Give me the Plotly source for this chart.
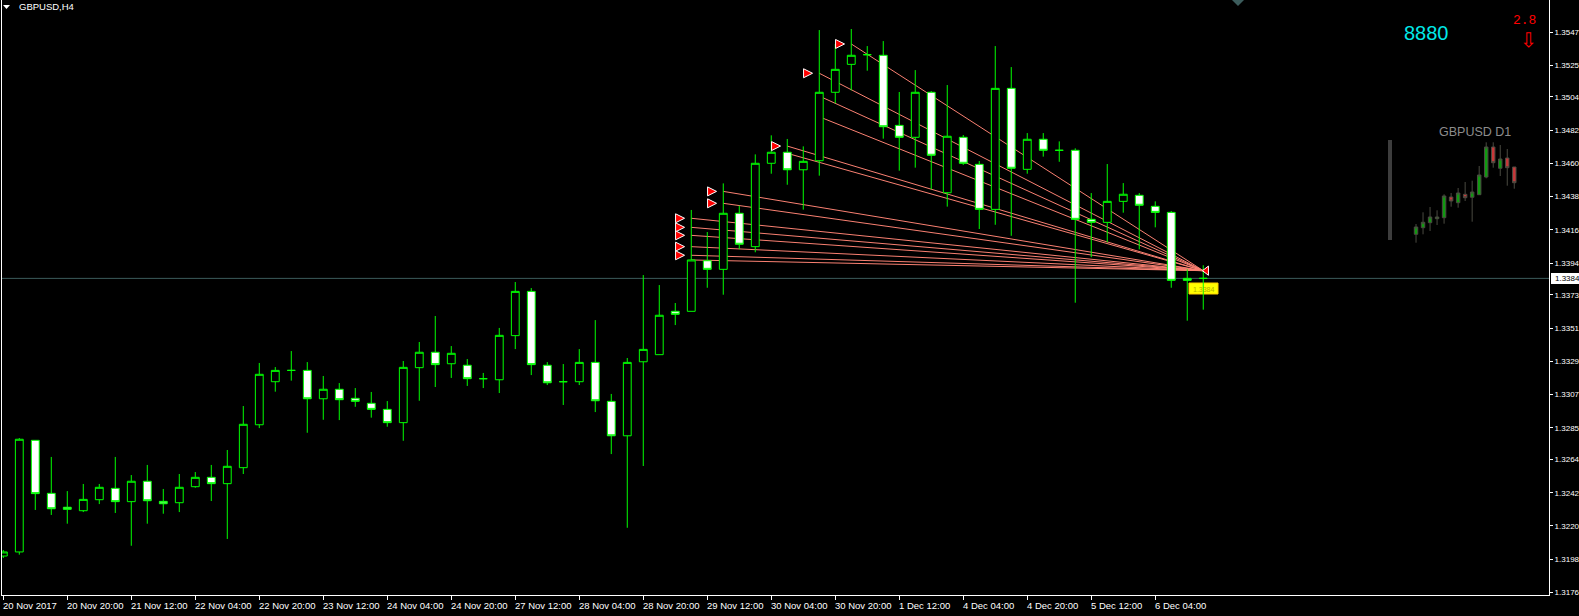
import plotly.graph_objects as go

# ---------------- H4 candles (GBPUSD,H4) ----------------
bar_index = list(range(76))
h4_open = [1.32001, 1.32028, 1.32767, 1.32416, 1.32324, 1.32301, 1.32374, 1.32449, 1.32361, 1.32496,
           1.32363, 1.32354, 1.32460, 1.32522, 1.32480, 1.32586, 1.32870, 1.33155, 1.33230, 1.33230,
           1.33042, 1.33105, 1.33045, 1.33012, 1.32972, 1.32884, 1.33248, 1.33350, 1.33274, 1.33264,
           1.33175, 1.33168, 1.33460, 1.33753, 1.33264, 1.33155, 1.33155, 1.33283, 1.33025, 1.32797,
           1.33287, 1.33334, 1.33621, 1.33621, 1.33956, 1.33899, 1.34270, 1.34049, 1.34601, 1.34674,
           1.34558, 1.34618, 1.35071, 1.35256, 1.35320, 1.35316, 1.34852, 1.34773, 1.35071, 1.34406,
           1.34773, 1.34594, 1.34296, 1.35097, 1.34561, 1.34760, 1.34687, 1.34687, 1.34230, 1.34210,
           1.34349, 1.34389, 1.34316, 1.34276, 1.33839, 1.33839]
h4_high = [1.32041, 1.32782, 1.32767, 1.32657, 1.32431, 1.32478, 1.32478, 1.32657, 1.32537, 1.32604,
           1.32445, 1.32544, 1.32557, 1.32604, 1.32703, 1.32994, 1.33279, 1.33252, 1.33358, 1.33285,
           1.33193, 1.33146, 1.33113, 1.33087, 1.33027, 1.33292, 1.33418, 1.33590, 1.33391, 1.33305,
           1.33213, 1.33511, 1.33815, 1.33775, 1.33285, 1.33272, 1.33371, 1.33563, 1.33074, 1.33312,
           1.33861, 1.33795, 1.33676, 1.34292, 1.34146, 1.34468, 1.34320, 1.34660, 1.34786, 1.34762,
           1.34713, 1.35483, 1.35391, 1.35490, 1.35377, 1.35410, 1.35073, 1.35218, 1.35079, 1.35119,
           1.34788, 1.34616, 1.35377, 1.35238, 1.34801, 1.34801, 1.34746, 1.34700, 1.34404, 1.34596,
           1.34470, 1.34404, 1.34349, 1.34285, 1.33899, 1.33926]
h4_low = [1.31988, 1.32010, 1.32306, 1.32273, 1.32215, 1.32292, 1.32345, 1.32286, 1.32069, 1.32215,
          1.32281, 1.32292, 1.32453, 1.32365, 1.32114, 1.32544, 1.32848, 1.33089, 1.33162, 1.32817,
          1.32903, 1.32901, 1.32989, 1.32917, 1.32857, 1.32764, 1.33029, 1.33120, 1.33180, 1.33127,
          1.33113, 1.33080, 1.33371, 1.33199, 1.33133, 1.33001, 1.33133, 1.32954, 1.32676, 1.32188,
          1.32597, 1.33334, 1.33530, 1.33621, 1.33777, 1.33731, 1.34033, 1.34012, 1.34532, 1.34459,
          1.34294, 1.34519, 1.34998, 1.35084, 1.35214, 1.34764, 1.34552, 1.34572, 1.34429, 1.34314,
          1.34590, 1.34166, 1.34194, 1.34121, 1.34532, 1.34645, 1.34611, 1.33678, 1.33979, 1.34078,
          1.34274, 1.34031, 1.34177, 1.33777, 1.33559, 1.33632]
h4_close = [1.32028, 1.32774, 1.32414, 1.32314, 1.32310, 1.32376, 1.32456, 1.32361, 1.32496, 1.32367,
            1.32347, 1.32456, 1.32522, 1.32480, 1.32595, 1.32873, 1.33204, 1.33230, 1.33230, 1.33042,
            1.33105, 1.33036, 1.33025, 1.32972, 1.32884, 1.33250, 1.33350, 1.33268, 1.33343, 1.33175,
            1.33175, 1.33462, 1.33753, 1.33268, 1.33148, 1.33155, 1.33283, 1.33029, 1.32797, 1.33283,
            1.33369, 1.33595, 1.33601, 1.33961, 1.33899, 1.34270, 1.34065, 1.34601, 1.34674, 1.34558,
            1.34614, 1.35071, 1.35223, 1.35316, 1.35320, 1.34843, 1.34773, 1.35071, 1.34654, 1.34780,
            1.34601, 1.34296, 1.35097, 1.34568, 1.34760, 1.34687, 1.34687, 1.34230, 1.34210, 1.34349,
            1.34396, 1.34323, 1.34276, 1.33826, 1.33826, 1.33839]

# time-axis labels (every 4 bars)
x_label_bars = [0, 4, 8, 12, 16, 20, 24, 28, 32, 36, 40, 44, 48, 52, 56, 60, 64, 68, 72]
x_labels = ["20 Nov 2017", "20 Nov 20:00", "21 Nov 12:00", "22 Nov 04:00", "22 Nov 20:00",
            "23 Nov 12:00", "24 Nov 04:00", "24 Nov 20:00", "27 Nov 12:00", "28 Nov 04:00",
            "28 Nov 20:00", "29 Nov 12:00", "30 Nov 04:00", "30 Nov 20:00", "1 Dec 12:00",
            "4 Dec 04:00", "4 Dec 20:00", "5 Dec 12:00", "6 Dec 04:00"]

# price-axis labels
y_labels = ["1.3547", "1.3525", "1.3504", "1.3482", "1.3460", "1.3438", "1.3416", "1.3394",
            "1.3373", "1.3351", "1.3329", "1.3307", "1.3285", "1.3264", "1.3242", "1.3220",
            "1.3198", "1.3176"]
current_price = 1.33839
current_price_text = "1.3384"

# fan of trend lines (start bar / start price) -> common end point
line_start_bar = [53, 51, 51, 51, 49, 49, 45, 45, 43, 43, 43, 43, 43, 43]
line_start_price = [1.35391, 1.35197, 1.35046, 1.34909, 1.34715, 1.34667, 1.34415, 1.34336,
                    1.34237, 1.34177, 1.34124, 1.34049, 1.33992, 1.33961]
line_end_bar = 75
line_end_price = 1.33890

# arrow signals
arrow_bar = [53, 51, 49, 45, 45, 43, 43, 43, 43, 43]
arrow_price = [1.35391, 1.35197, 1.34715, 1.34415, 1.34336, 1.34237, 1.34177, 1.34124, 1.34049, 1.33992]

# ---------------- D1 mini chart ----------------
d1_index = list(range(15))
d1_open = [1.31776, 1.32040, 1.32240, 1.32400, 1.32440, 1.33268, 1.33040, 1.33376, 1.33256, 1.33360,
           1.34068, 1.35268, 1.34416, 1.34828, 1.34468]
d1_high = [1.32188, 1.32656, 1.32868, 1.32736, 1.33376, 1.33428, 1.33628, 1.33868, 1.33920, 1.34508,
           1.35456, 1.35456, 1.35348, 1.35188, 1.34468]
d1_low = [1.31440, 1.31776, 1.31908, 1.32148, 1.32200, 1.32880, 1.32840, 1.33108, 1.32280, 1.33360,
          1.34016, 1.34440, 1.34108, 1.33720, 1.33600]
d1_close = [1.32068, 1.32256, 1.32468, 1.32468, 1.33308, 1.33108, 1.33428, 1.33240, 1.33468, 1.34148,
            1.35268, 1.34640, 1.34788, 1.34440, 1.33840]

# ---------------- layout helpers (pixel -> paper) ----------------
W, H = 1579, 616
ML, MR, MT, MB = 2, 30, 0, 21
PW, PH = W - ML - MR, H - MT - MB


def px_x(px):
    return (px - ML) / PW


def px_y(py):
    return 1 - (py - MT) / PH


LIME = "#00FF00"
SALMON = "#FA8072"
SLATE = "#3c5c5c"
FONT = "Liberation Sans"

fig = go.Figure()

# arrows (drawn as scatter markers)
fig.add_trace(go.Scatter(
    x=[b - 0.42 for b in arrow_bar], y=arrow_price, mode="markers",
    marker=dict(symbol="arrow-right", size=9, color="#FF0000", line=dict(color="white", width=1)),
    hoverinfo="skip", showlegend=False))

# main candles
fig.add_trace(go.Candlestick(
    x=bar_index, open=h4_open, high=h4_high, low=h4_low, close=h4_close,
    increasing=dict(line=dict(color=LIME, width=1), fillcolor="black"),
    decreasing=dict(line=dict(color=LIME, width=1), fillcolor="white"),
    whiskerwidth=0, hoverinfo="skip", showlegend=False))

# end-point marker of the line fan
fig.add_trace(go.Scatter(
    x=[line_end_bar + 0.2], y=[line_end_price], mode="markers",
    marker=dict(symbol="triangle-left", size=8, color="#FF0000", line=dict(color="white", width=1)),
    hoverinfo="skip", showlegend=False))

# D1 mini chart
fig.add_trace(go.Candlestick(
    x=d1_index, open=d1_open, high=d1_high, low=d1_low, close=d1_close,
    xaxis="x2", yaxis="y2",
    increasing=dict(line=dict(color="#4a4a40", width=1), fillcolor="#119911"),
    decreasing=dict(line=dict(color="#4a4a40", width=1), fillcolor="#c8383a"),
    whiskerwidth=0, hoverinfo="skip", showlegend=False))

shapes = []
# trend line fan (behind candles)
for b, p in zip(line_start_bar, line_start_price):
    shapes.append(dict(type="line", xref="x", yref="y", x0=b, y0=p, x1=line_end_bar, y1=line_end_price,
                       line=dict(color=SALMON, width=1), layer="below"))
# current price line
shapes.append(dict(type="line", xref="paper", yref="y", x0=0, x1=1, y0=current_price, y1=current_price,
                   line=dict(color=SLATE, width=1), layer="below"))
# yellow price label
shapes.append(dict(type="rect", xref="paper", yref="paper",
                   x0=px_x(1189), x1=px_x(1218), y0=px_y(294), y1=px_y(283),
                   fillcolor="#FFFF00", line=dict(color="#FFD000", width=1), layer="below"))
# current price box on the axis
shapes.append(dict(type="rect", xref="paper", yref="paper",
                   x0=px_x(1551), x1=px_x(1580), y0=px_y(284), y1=px_y(273),
                   fillcolor="white", line=dict(width=0)))
# chart-shift triangle at top
shapes.append(dict(type="path", xref="paper", yref="paper",
                   path=f"M {px_x(1232)} {px_y(0)} L {px_x(1244)} {px_y(0)} L {px_x(1238)} {px_y(6)} Z",
                   fillcolor=SLATE, line=dict(width=0)))
# small white triangle before title
shapes.append(dict(type="path", xref="paper", yref="paper",
                   path=f"M {px_x(3)} {px_y(5)} L {px_x(10)} {px_y(5)} L {px_x(6.5)} {px_y(9)} Z",
                   fillcolor="white", line=dict(width=0)))
# striped gray scale bar of the D1 panel
for py in range(141, 241, 2):
    shapes.append(dict(type="line", xref="paper", yref="paper",
                       x0=px_x(1388), x1=px_x(1392), y0=px_y(py), y1=px_y(py),
                       line=dict(color="#9a9a9a", width=0.8)))

annotations = []
for b, t in zip(x_label_bars, x_labels):
    annotations.append(dict(x=b, xref="x", y=px_y(605), yref="paper", text=t, showarrow=False,
                            xanchor="left", yanchor="middle", xshift=-2,
                            font=dict(family=FONT, size=9.5, color="white")))
annotations += [
    dict(x=px_x(17), y=px_y(7), xref="paper", yref="paper", text="GBPUSD,H4", showarrow=False,
         xanchor="left", yanchor="middle", font=dict(family=FONT, size=9.5, color="white")),
    dict(x=px_x(1426.5), y=px_y(32.5), xref="paper", yref="paper", text="8880", showarrow=False,
         xanchor="center", yanchor="middle", font=dict(family=FONT, size=20, color="#00E8E8")),
    dict(x=px_x(1524), y=px_y(20.5), xref="paper", yref="paper", text="2.8", showarrow=False,
         xanchor="center", yanchor="middle", font=dict(family="Liberation Mono", size=13, color="#FF0000")),
    dict(x=px_x(1528), y=px_y(40), xref="paper", yref="paper", text="⇩", showarrow=False,
         xanchor="center", yanchor="middle", font=dict(family="DejaVu Sans", size=20, color="#FF0000")),
    dict(x=px_x(1437), y=px_y(131.5), xref="paper", yref="paper", text="GBPUSD D1", showarrow=False,
         xanchor="left", yanchor="middle", font=dict(family=FONT, size=12.5, color="#8c8c8c")),
    dict(x=px_x(1203.5), y=px_y(289), xref="paper", yref="paper", text=current_price_text, showarrow=False,
         xanchor="center", yanchor="middle", font=dict(family=FONT, size=7, color="#b0b000")),
    dict(x=px_x(1553), y=current_price, xref="paper", yref="y", text=current_price_text, showarrow=False,
         xanchor="left", yanchor="middle", font=dict(family=FONT, size=8, color="black")),
]

fig.update_layout(
    width=W, height=H,
    margin=dict(l=ML, r=MR, t=MT, b=MB, pad=0),
    paper_bgcolor="black", plot_bgcolor="black",
    hovermode=False, showlegend=False,
    shapes=shapes, annotations=annotations,
    xaxis=dict(range=[-0.081, 96.61], showgrid=False, zeroline=False, rangeslider=dict(visible=False),
               showline=True, linecolor="white", linewidth=1, mirror=True,
               tickmode="array", tickvals=x_label_bars, ticks="outside", ticklen=4, tickcolor="white",
               showticklabels=False, fixedrange=True),
    yaxis=dict(range=[1.31743, 1.35682], side="right", showgrid=False, zeroline=False,
               showline=True, linecolor="white", linewidth=1, mirror=True,
               tickmode="array", tickvals=[float(s) for s in y_labels], ticktext=y_labels,
               ticks="outside", ticklen=3, tickcolor="white",
               tickfont=dict(family=FONT, size=8, color="white"), automargin=False, fixedrange=True),
    xaxis2=dict(domain=[px_x(1409), px_x(1521.3)], anchor="y2", range=[-1, 15], visible=False,
                rangeslider=dict(visible=False), fixedrange=True),
    yaxis2=dict(domain=[px_y(245), px_y(140)], anchor="x2", range=[1.31348, 1.35548], visible=False,
                fixedrange=True),
)

fig.write_html("out.html", config={"displayModeBar": False, "staticPlot": True},
               post_script="document.body.style.margin='0';document.body.style.overflow='hidden';")
